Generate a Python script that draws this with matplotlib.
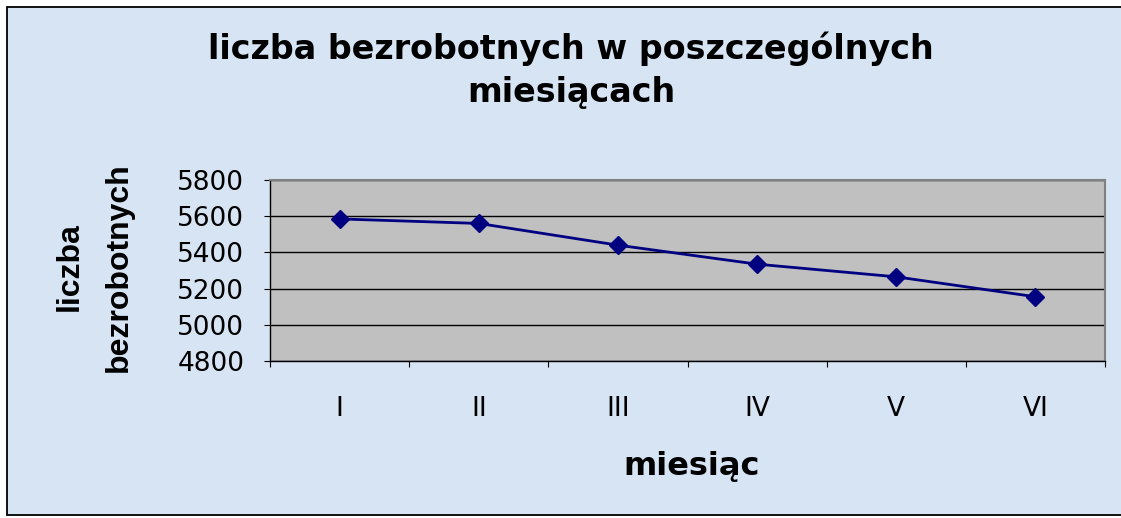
import matplotlib.pyplot as plt
from matplotlib.patches import Rectangle

# Dane
miesiace = ["I", "II", "III", "IV", "V", "VI"]
bezrobotni = [5585, 5560, 5440, 5335, 5265, 5155]
y_ticks = [4800, 5000, 5200, 5400, 5600, 5800]

plt.rcParams['font.family'] = ['DejaVu Sans']

fig = plt.figure(figsize=(11.21, 5.18), dpi=100)
fig.patch.set_facecolor("white")

# tlo wykresu z ramka
tlo = Rectangle((7 / 1121, 3 / 518), 1.1, 1 - 10 / 518, transform=fig.transFigure,
                facecolor="#d7e4f4", edgecolor="black", linewidth=1.3, zorder=-10)
fig.patches.append(tlo)

ax = fig.add_axes([270 / 1121, 157 / 518, 835 / 1121, 181 / 518])
ax.set_facecolor("#c0c0c0")

x = list(range(len(miesiace)))
ax.plot(x, bezrobotni, color="#000080", linewidth=2, marker="D", markersize=9,
        markerfacecolor="#000080", markeredgecolor="#000080", zorder=3)

ax.set_xlim(-0.5, len(miesiace) - 0.5)
ax.set_ylim(4800, 5800)
ax.set_yticks(y_ticks)
ax.set_yticklabels([str(v) for v in y_ticks], fontsize=19)
ax.yaxis.grid(True, color="black", linewidth=1)
ax.set_axisbelow(True)

# etykiety kategorii miedzy znacznikami (jak w Excelu)
ax.set_xticks([i - 0.5 for i in range(len(miesiace) + 1)])
ax.set_xticklabels([])
ax.set_xticks(x, minor=True)
ax.set_xticklabels(miesiace, minor=True, fontsize=19)
ax.tick_params(axis="x", which="minor", length=0, pad=25)
ax.tick_params(axis="x", which="major", length=4.5, color="black")
ax.tick_params(axis="y", length=4.5, color="black", pad=14)

for s in ["top", "right"]:
    ax.spines[s].set_color("#808080")
    ax.spines[s].set_linewidth(1.5)
for s in ["left", "bottom"]:
    ax.spines[s].set_color("black")
    ax.spines[s].set_linewidth(1)

fig.text(571 / 1121, 1 - 70 / 518, "liczba bezrobotnych w poszczególnych\nmiesiącach",
         ha="center", va="center", fontsize=24, fontweight="bold", linespacing=1.4)
fig.text(692 / 1121, 1 - 466 / 518, "miesiąc", ha="center", va="center",
         fontsize=23, fontweight="bold")
fig.text(70 / 1121, 1 - 267 / 518, "liczba", ha="center", va="center",
         rotation=90, fontsize=23, fontweight="bold", family="Liberation Sans")
fig.text(119 / 1121, 1 - 267 / 518, "bezrobotnych", ha="center", va="center",
         rotation=90, fontsize=23, fontweight="bold", family="Liberation Sans")

fig.savefig("out.png", dpi=100, facecolor=fig.get_facecolor())
